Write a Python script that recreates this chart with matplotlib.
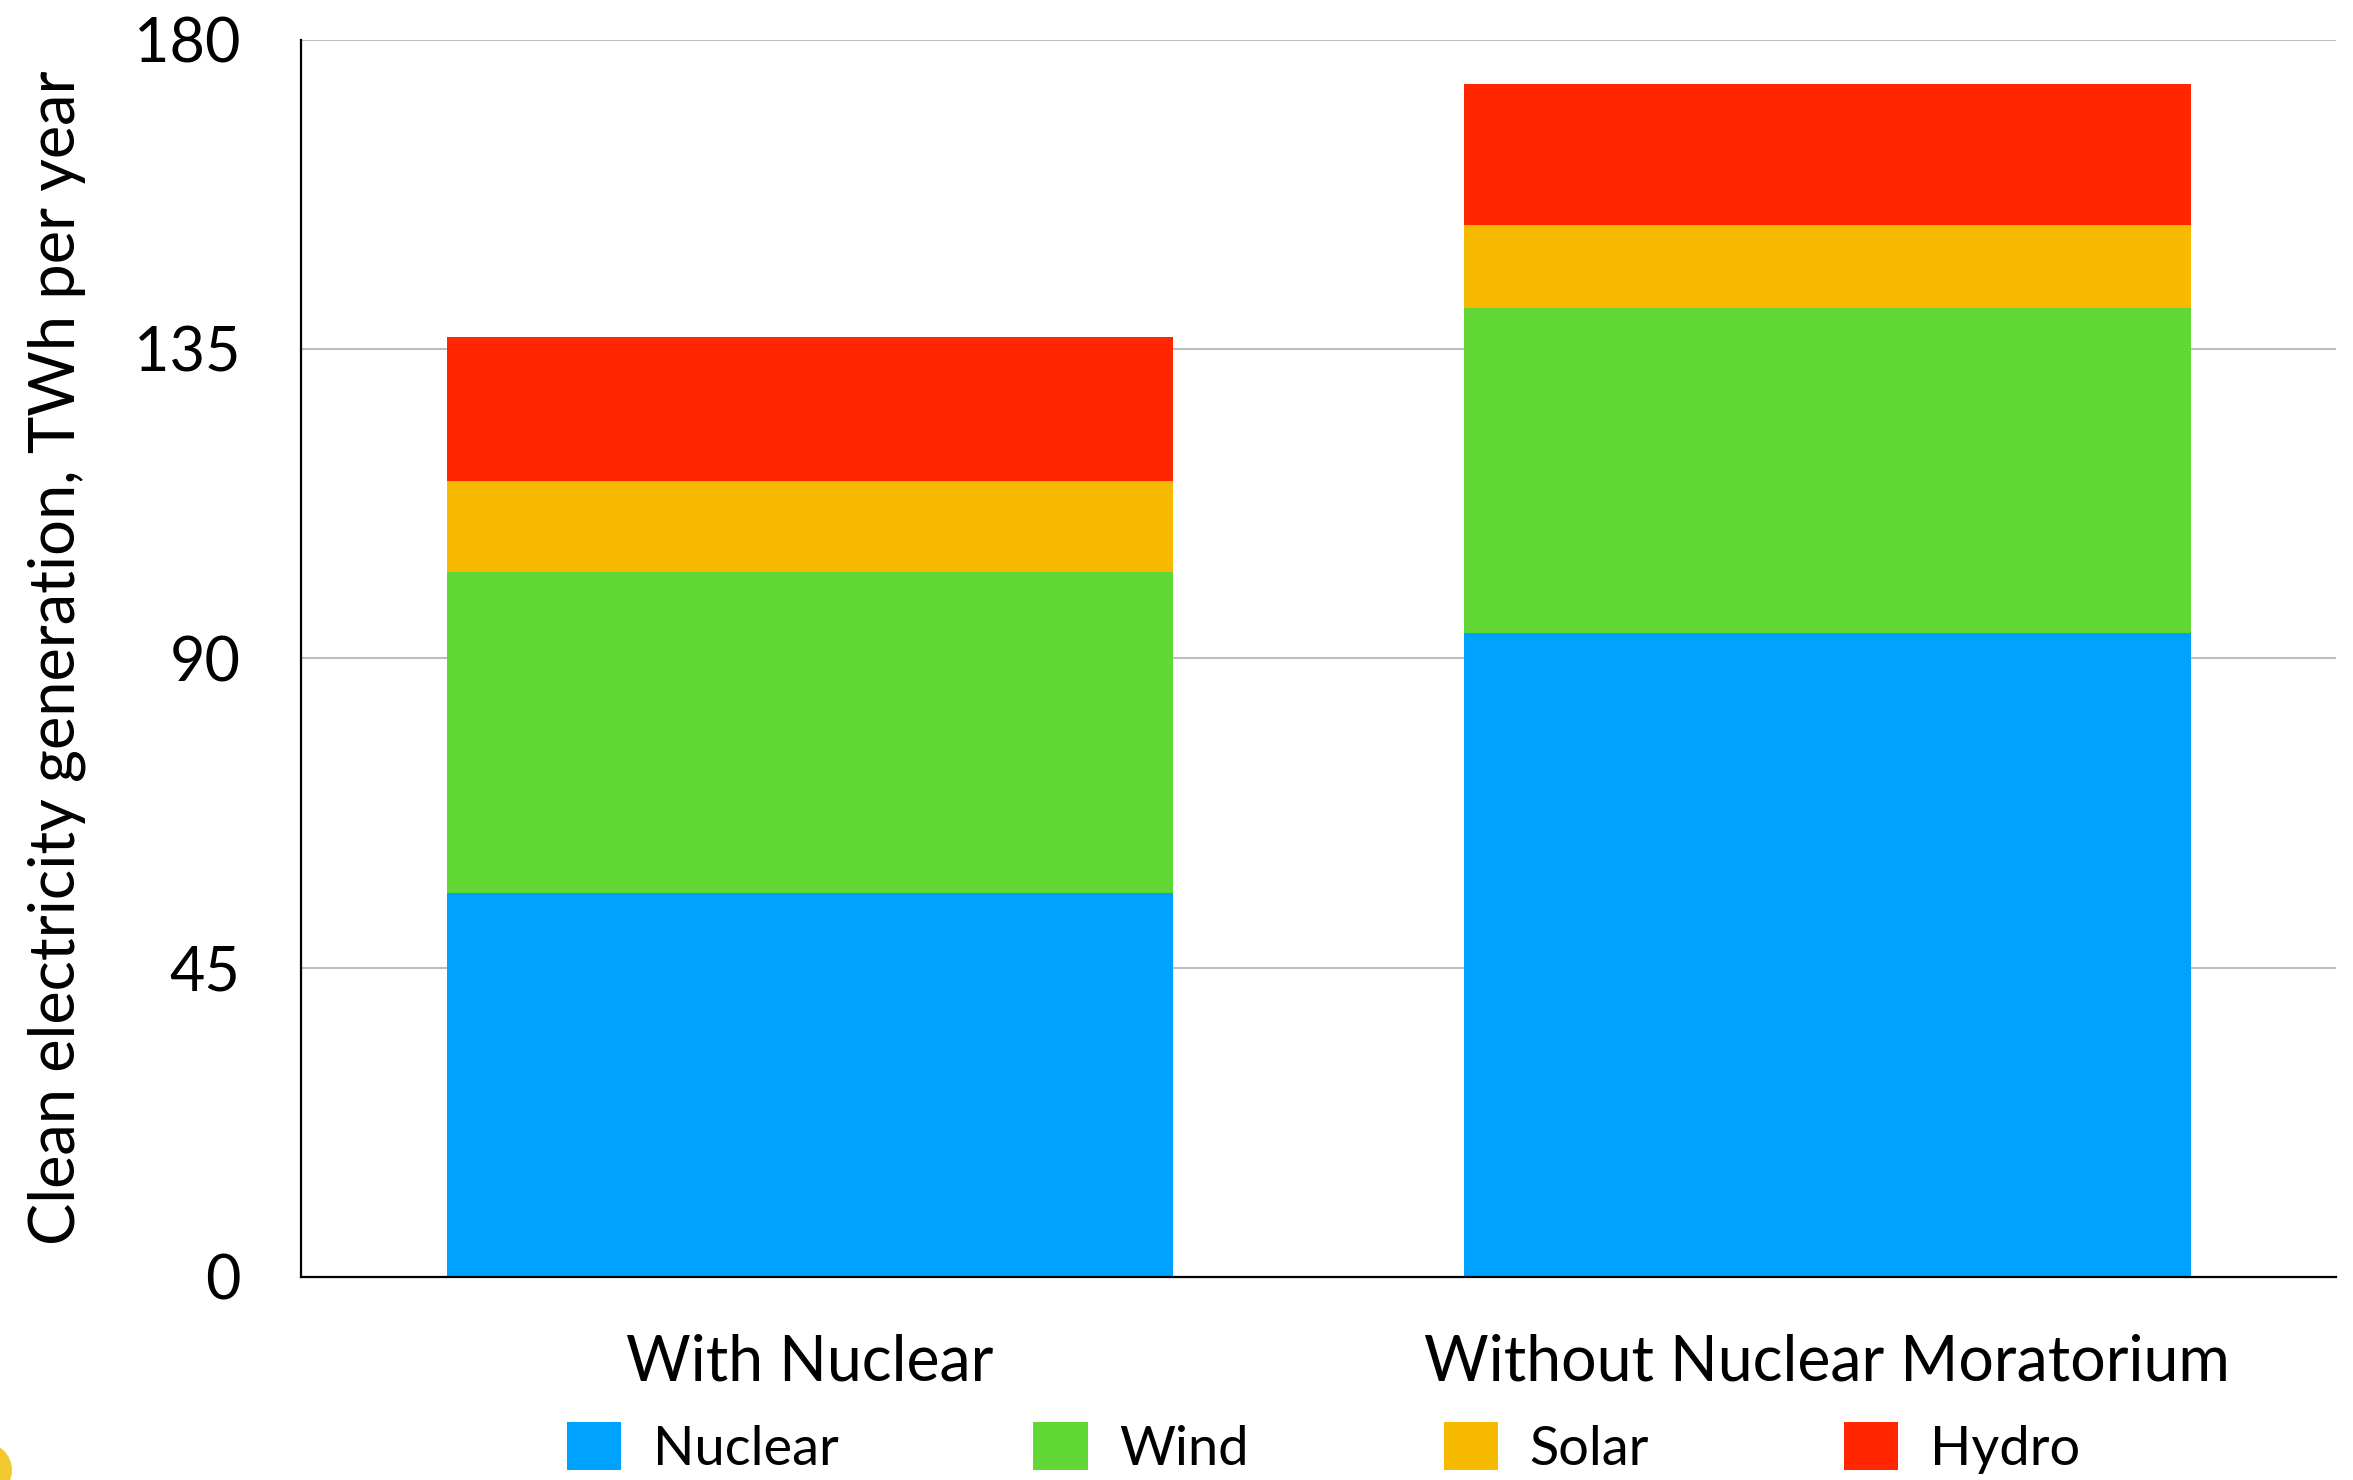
import matplotlib
matplotlib.use("Agg")
import matplotlib.pyplot as plt
from matplotlib.patches import Patch, Ellipse

# Scenario totals of clean electricity generation (TWh per year)
scenarios = ["With Nuclear", "Without Nuclear Moratorium"]
sources = ["Nuclear", "Wind", "Solar", "Hydro"]
nuclear = [55.8, 93.7]
wind = [46.8, 47.3]
solar = [13.2, 12.0]
hydro = [21.0, 20.6]
colors = ["#00A2FF", "#61D836", "#F7BA00", "#FF2600"]
y_ticks = [0, 45, 90, 135, 180]

plt.rcParams["font.family"] = ["Lato", "DejaVu Sans"]

fig = plt.figure(figsize=(23.53, 14.80), dpi=100)
ax = fig.add_axes([0.1281, 0.1372, 0.8647, 0.8360])

x = list(range(len(scenarios)))
bottom = [0.0] * len(scenarios)
for name, vals, col in zip(sources, [nuclear, wind, solar, hydro], colors):
    ax.bar(x, vals, width=0.714, bottom=bottom, color=col, linewidth=0,
           zorder=2, label=name)
    bottom = [b + v for b, v in zip(bottom, vals)]

ax.set_xlim(-0.5, 1.5)
ax.set_ylim(0, 180)
ax.set_yticks(y_ticks)
ax.set_yticklabels([str(t) for t in y_ticks])
ax.set_xticks(x)
ax.set_xticklabels(scenarios)

ax.set_axisbelow(True)
ax.yaxis.grid(True, color="#BDBDBD", linewidth=1.5)
ax.xaxis.grid(False)

for side in ("top", "right"):
    ax.spines[side].set_visible(False)
for side in ("left", "bottom"):
    ax.spines[side].set_color("black")
    ax.spines[side].set_linewidth(1.6)
    ax.spines[side].set_zorder(3)

ax.tick_params(axis="y", length=0, pad=44, labelsize=44)
ax.tick_params(axis="x", length=0, pad=41, labelsize=45)

fig.text(57 / 2353, 1 - 658 / 1480, "Clean electricity generation, TWh per year",
         rotation=90, ha="center", va="center", fontsize=45.5)

handles = [Patch(facecolor=c, edgecolor="none", label=s) for s, c in zip(sources, colors)]
fig.legend(handles=handles, loc="upper left", bbox_to_anchor=(567 / 2353, 1 - 1422 / 1480),
           ncol=4, frameon=False, fontsize=39, handlelength=1.0, handleheight=1.0,
           handletextpad=0.59, columnspacing=3.59, borderaxespad=0, borderpad=0)

# small yellow badge peeking in at the lower-left corner
fig.patches.append(Ellipse((-15 / 2353, 1 - 1470 / 1480), 54 / 2353, 54 / 1480,
                           transform=fig.transFigure, facecolor="#F2C41A",
                           edgecolor="none", alpha=0.9))

fig.savefig("out.png", dpi=100, facecolor="white")
